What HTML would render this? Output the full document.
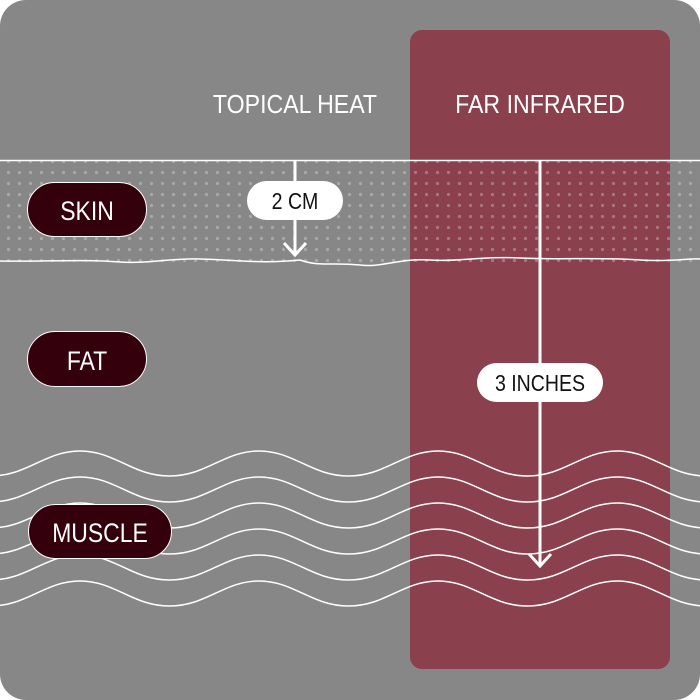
<!DOCTYPE html>
<html><head><meta charset="utf-8"><style>
html,body{margin:0;padding:0;background:#fff;}
svg{display:block}
text{font-family:"Liberation Sans",sans-serif;}
</style></head><body>
<svg width="700" height="700" viewBox="0 0 700 700" xmlns="http://www.w3.org/2000/svg">
<defs>
<pattern id="dots" x="3" y="2" width="11" height="11" patternUnits="userSpaceOnUse">
<circle cx="5.5" cy="5.5" r="1.6" fill="#ffffff" fill-opacity="0.28"/>
</pattern>
<clipPath id="pg"><rect x="0" y="0" width="700" height="700" rx="26"/></clipPath>
<path id="wave" d="M-99,451 C-64,451 -46.5,476 -9.5,476 C27.5,476 45,451 80,451 C115,451 132.5,476 169.5,476 C206.5,476 224,451 259,451 C294,451 311.5,476 348.5,476 C385.5,476 403,451 438,451 C473,451 490.5,476 527.5,476 C564.5,476 582,451 617,451 C652,451 669.5,476 706.5,476 C743.5,476 761,451 796,451" fill="none" stroke="#fff" stroke-width="1.5"/>
</defs>
<g clip-path="url(#pg)">
<rect width="700" height="700" fill="#878787"/>
<rect x="410" y="30" width="260" height="639" rx="12" fill="#8b404d"/>
<rect x="0" y="160" width="700" height="103" fill="url(#dots)"/>
<line x1="0" y1="160.5" x2="700" y2="160.5" stroke="#fff" stroke-width="1.5"/>
<path d="M0,261 C40,262 80,259 120,262 C150,264 170,258 200,259 C240,260 260,264 300,260 C320,267 330,262 360,265 C380,268 400,258 430,260 C460,262 480,256 520,258 C560,260 600,257 640,260 C670,262 690,258 700,259" fill="none" stroke="#fff" stroke-width="1.5"/>
<use href="#wave"/>
<use href="#wave" y="26"/>
<use href="#wave" y="52"/>
<use href="#wave" y="78"/>
<use href="#wave" y="104"/>
<use href="#wave" y="130"/>
</g>
<text transform="translate(295,113) scale(0.89,1)" font-size="26" fill="#fff" text-anchor="middle">TOPICAL HEAT</text>
<text transform="translate(540,113) scale(0.89,1)" font-size="26" fill="#fff" text-anchor="middle">FAR INFRARED</text>
<line x1="295" y1="160" x2="295" y2="255" stroke="#fff" stroke-width="3"/>
<polyline points="284,243 295,255 306,243" fill="none" stroke="#fff" stroke-width="3"/>
<line x1="540" y1="160" x2="540" y2="566" stroke="#fff" stroke-width="3"/>
<polyline points="529,554 540,566 551,554" fill="none" stroke="#fff" stroke-width="3"/>
<rect x="247" y="181" width="96" height="39" rx="19.5" fill="#fff"/>
<text transform="translate(295,209) scale(0.85,1)" font-size="23" fill="#111" text-anchor="middle">2 CM</text>
<rect x="477" y="363" width="126" height="39" rx="19.5" fill="#fff"/>
<text transform="translate(540,391) scale(0.85,1)" font-size="23" fill="#111" text-anchor="middle">3 INCHES</text>
<rect x="27.5" y="182.5" width="119" height="54" rx="27" fill="#33000c" stroke="#fff" stroke-width="1"/>
<text transform="translate(87,220) scale(0.85,1)" font-size="27" fill="#fff" text-anchor="middle">SKIN</text>
<rect x="27.5" y="331.5" width="119" height="55" rx="27.5" fill="#33000c" stroke="#fff" stroke-width="1"/>
<text transform="translate(87,370) scale(0.85,1)" font-size="27" fill="#fff" text-anchor="middle">FAT</text>
<rect x="28.5" y="504.5" width="143" height="54" rx="27" fill="#33000c" stroke="#fff" stroke-width="1"/>
<text transform="translate(100,542) scale(0.85,1)" font-size="27" fill="#fff" text-anchor="middle">MUSCLE</text>
</svg>
</body></html>
